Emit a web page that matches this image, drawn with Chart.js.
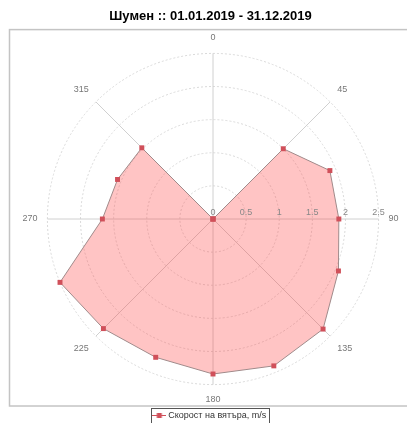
<!DOCTYPE html>
<html lang="bg">
<head>
<meta charset="UTF-8">
<title>Шумен</title>
<script src="https://cdn.jsdelivr.net/npm/chart.js"></script>
<style>
  html, body { margin: 0; padding: 0; background: #fff; overflow: hidden; }
  #wrap { width: 425px; height: 423px; }
</style>
</head>
<body>
<div id="wrap"><canvas id="windRose"></canvas></div>
<script>
// посоки (градуси) и средна скорост на вятъра, m/s
const directions = ['0', '22.5', '45', '67.5', '90', '112.5', '135', '157.5',
                    '180', '202.5', '225', '247.5', '270', '292.5', '315', '337.5'];
const speeds = [0, 0, 1.50, 1.91, 1.90, 2.05, 2.35, 2.40,
                2.34, 2.26, 2.34, 2.50, 1.67, 1.56, 1.52, 0];
const radialTicks = [0, 0.5, 1, 1.5, 2, 2.5];
const seriesName = 'Скорост на вятъра, m/s';
const titleText = 'Шумен :: 01.01.2019 - 31.12.2019';

// marker for legend: line + small square
const marker = document.createElement('canvas');
marker.width = 14; marker.height = 7;
(function () {
  const c = marker.getContext('2d');
  c.strokeStyle = '#d0505a';
  c.lineWidth = 1;
  c.beginPath(); c.moveTo(0, 3.5); c.lineTo(14, 3.5); c.stroke();
  c.fillStyle = '#d0505a';
  c.fillRect(4.5, 1, 5, 5);
})();

// plot frame around chart area
const frame = {
  id: 'frame',
  beforeDraw(chart) {
    const a = chart.chartArea, ctx = chart.ctx;
    ctx.save();
    ctx.strokeStyle = '#c4c4c4';
    ctx.lineWidth = 1.5;
    ctx.strokeRect(a.left + 2.5, a.top - 3, a.right - a.left, a.bottom - a.top + 2);
    ctx.restore();
  },
  afterDraw(chart) {
    const ctx = chart.ctx;
    // tick labels along the 90 axis
    const r = chart.scales.r;
    ctx.save();
    ctx.font = '9px "Liberation Sans", Arial, sans-serif';
    ctx.fillStyle = '#888';
    ctx.textAlign = 'center';
    ctx.textBaseline = 'middle';
    radialTicks.forEach(v => {
      const d = r.getDistanceFromCenterForValue(v);
      ctx.fillText(String(v), r.xCenter + d, r.yCenter - 6);
    });
    ctx.restore();
    // legend border
    const hb = chart.legend.legendHitBoxes[0];
    if (hb) {
      ctx.save();
      ctx.strokeStyle = '#555';
      ctx.lineWidth = 1;
      ctx.strokeRect(Math.round(hb.left) - 3.5, Math.round(hb.top) - 2.5, Math.round(hb.width) + 7, Math.round(hb.height) + 6);
      ctx.restore();
    }
  }
};

new Chart(document.getElementById('windRose'), {
  type: 'radar',
  data: {
    labels: directions,
    datasets: [{
      label: seriesName,
      data: speeds,
      fill: true,
      backgroundColor: 'rgba(255, 60, 60, 0.3)',
      borderColor: '#a08a8a',
      borderWidth: 1,
      pointStyle: 'rect',
      pointRadius: 3.5,
      pointBackgroundColor: '#d0505a',
      pointBorderColor: '#d0505a',
      pointBorderWidth: 0,
      tension: 0
    }]
  },
  options: {
    responsive: true,
    maintainAspectRatio: false,
    animation: false,
    layout: { padding: { left: 7, right: 11, top: 0, bottom: 0 } },
    scales: {
      r: {
        min: 0,
        max: 2.5,
        ticks: { stepSize: 0.5, display: false },
        grid: { circular: true, color: '#d9d9d9', lineWidth: 1 },
        border: { dash: [2, 2] },
        angleLines: {
          color: ctx => (ctx.index % 2 === 0 ? '#d0d0d0' : 'rgba(0,0,0,0)'),
          lineWidth: 1
        },
        pointLabels: {
          padding: 10,
          color: '#777',
          font: { family: '"Liberation Sans", Arial, sans-serif', size: 9 },
          callback: (label, i) => (i % 2 === 0 ? label : '')
        }
      }
    },
    plugins: {
      title: {
        display: true,
        text: titleText,
        color: '#000',
        font: { family: '"Liberation Sans", Arial, sans-serif', size: 13, weight: 'bold' },
        padding: { top: 9, bottom: 8 }
      },
      legend: {
        position: 'bottom',
        maxHeight: 16,
        labels: {
          usePointStyle: true,
          pointStyle: marker,
          boxWidth: 14,
          padding: 4,
          color: '#333',
          font: { family: '"Liberation Sans", Arial, sans-serif', size: 9 }
        }
      },
      tooltip: { enabled: false }
    }
  },
  plugins: [frame]
});
</script>
</body>
</html>
